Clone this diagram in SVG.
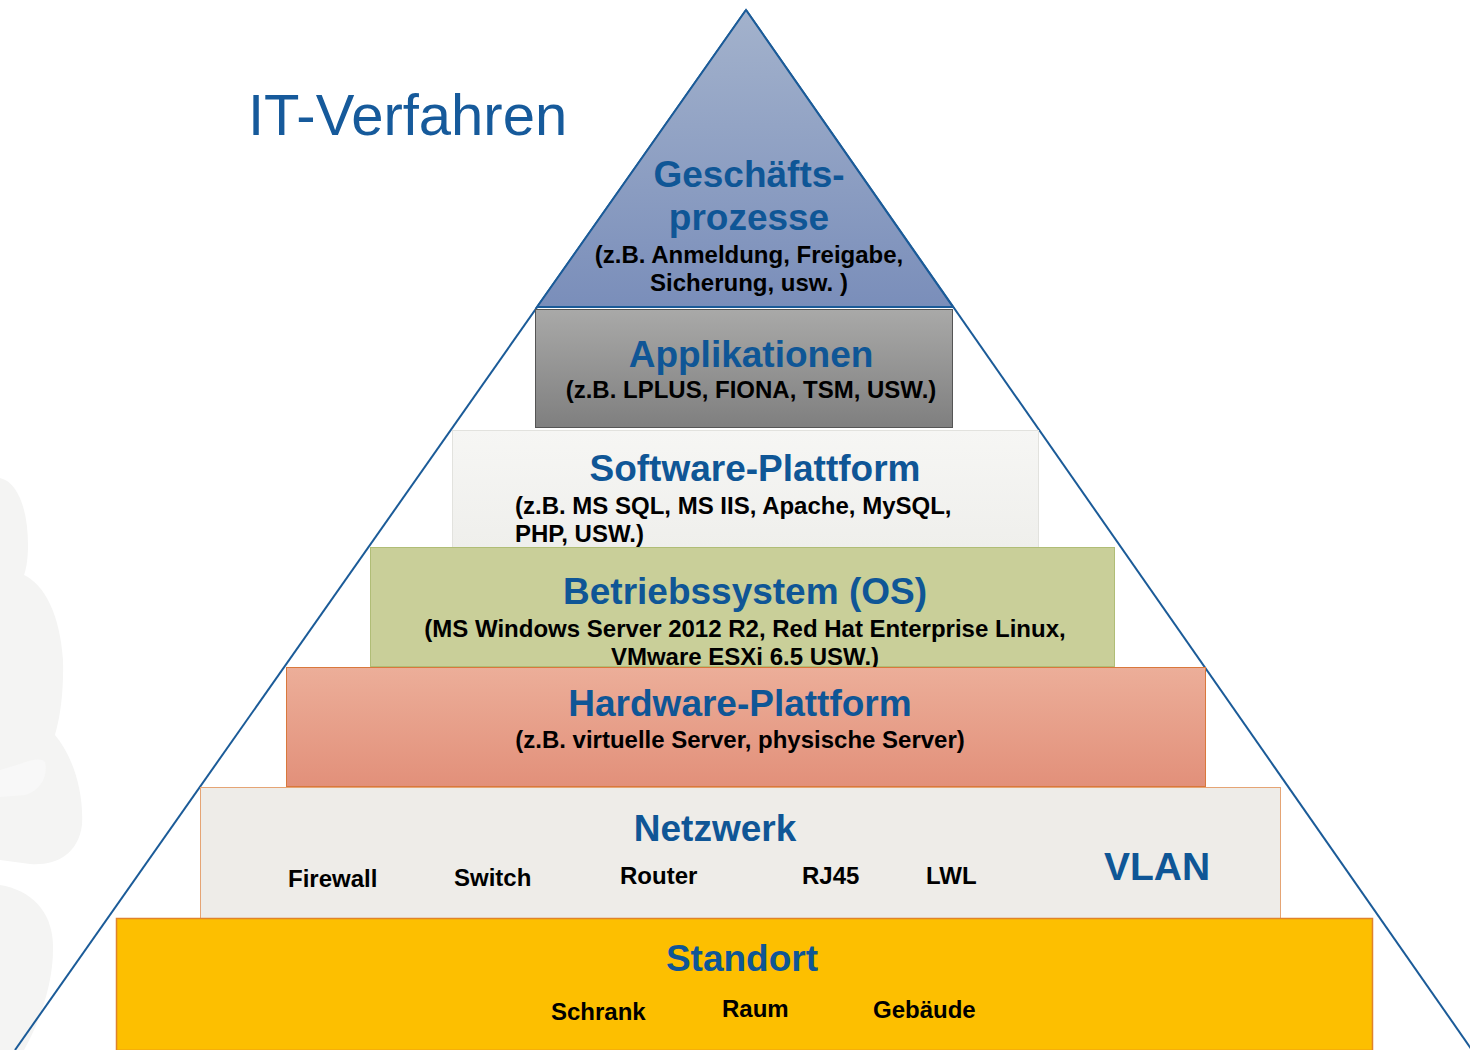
<svg xmlns="http://www.w3.org/2000/svg" width="1470" height="1050" viewBox="0 0 1470 1050">
<defs>
<linearGradient id="gTop" x1="0" y1="0" x2="0" y2="1"><stop offset="0" stop-color="#a3b2cc"/><stop offset="1" stop-color="#7a8eba"/></linearGradient>
<linearGradient id="gApp" x1="0" y1="0" x2="0" y2="1"><stop offset="0" stop-color="#a9a9a8"/><stop offset="1" stop-color="#7f7f7f"/></linearGradient>
<linearGradient id="gSw" x1="0" y1="0" x2="0" y2="1"><stop offset="0" stop-color="#f6f6f4"/><stop offset="1" stop-color="#efefec"/></linearGradient>
<linearGradient id="gHw" x1="0" y1="0" x2="0" y2="1"><stop offset="0" stop-color="#ecae99"/><stop offset="1" stop-color="#e2907a"/></linearGradient>
</defs>
<style>
text{font-family:"Liberation Sans",Arial,sans-serif;font-weight:bold}
.h{fill:#0f5696;font-size:37px}
.s{fill:#000;font-size:24px}
.c{text-anchor:middle}
.title{fill:#165a9b;font-size:58px;font-weight:normal}
.edge{stroke:#1b5b98;stroke-width:2;fill:none}
</style>
<rect width="1470" height="1050" fill="#ffffff"/>
<path d="M0,478 C18,482 28,510 28,545 C28,560 26,570 24,575 C45,585 60,615 63,660 C64,700 58,725 55,735 C72,755 84,790 82,825 C78,855 55,866 30,864 L0,860 Z" fill="#f4f4f3"/>
<path d="M0,885 C30,890 52,910 53,945 C54,985 38,1025 24,1050 L0,1050 Z" fill="#f4f4f3"/>
<path d="M0,770 C20,765 38,755 45,762 C48,775 42,790 25,795 L0,797 Z" fill="#f8f8f8"/>
<text class="title" x="248" y="135">IT-Verfahren</text>
<g id="connectors">
<line class="edge" x1="746" y1="10" x2="15" y2="1050"/>
<line class="edge" x1="746" y1="10" x2="1472" y2="1050"/>
</g>
<g id="geschaeftsprozesse">
<polygon points="746,10 537,307 953,307" fill="url(#gTop)" stroke="#1b5b98" stroke-width="2"/>
<text class="h c" x="749" y="187">Geschäfts-</text>
<text class="h c" x="749" y="230">prozesse</text>
<text class="s c" x="749" y="263">(z.B. Anmeldung, Freigabe,</text>
<text class="s c" x="749" y="291">Sicherung, usw. )</text>
</g>
<g id="applikationen">
<rect x="535.5" y="309.5" width="417" height="118" fill="url(#gApp)" stroke="#555555" stroke-width="1"/>
<text class="h c" x="751" y="367">Applikationen</text>
<text class="s c" x="751" y="398">(z.B. LPLUS, FIONA, TSM, USW.)</text>
</g>
<g id="software">
<rect x="452.5" y="430.5" width="586" height="117" fill="url(#gSw)" stroke="#e2e2de" stroke-width="1"/>
<text class="h c" x="755" y="481">Software-Plattform</text>
<text class="s" x="515" y="514">(z.B. MS SQL, MS IIS, Apache, MySQL,</text>
<text class="s" x="515" y="542">PHP, USW.)</text>
</g>
<g id="betriebssystem">
<rect x="370.5" y="547.5" width="744" height="119" fill="#c9cf99" stroke="#b0bd76" stroke-width="1"/>
<text class="h c" x="745" y="604">Betriebssystem (OS)</text>
<text class="s c" x="745" y="637">(MS Windows Server 2012 R2, Red Hat Enterprise Linux,</text>
<text class="s c" x="745" y="665">VMware ESXi 6.5 USW.)</text>
</g>
<g id="hardware">
<rect x="286.5" y="667.5" width="919" height="119" fill="url(#gHw)" stroke="#d9783c" stroke-width="1"/>
<text class="h c" x="740" y="716">Hardware-Plattform</text>
<text class="s c" x="740" y="748">(z.B. virtuelle Server, physische Server)</text>
</g>
<g id="netzwerk">
<rect x="200.5" y="787.5" width="1080" height="131" fill="#eeece8" stroke="#e5a474" stroke-width="1"/>
<text class="h c" x="715" y="841">Netzwerk</text>
<text class="s" x="288" y="887">Firewall</text>
<text class="s" x="454" y="886">Switch</text>
<text class="s" x="620" y="884">Router</text>
<text class="s" x="802" y="884">RJ45</text>
<text class="s" x="926" y="884">LWL</text>
<text class="h" x="1104" y="880" style="font-size:39px">VLAN</text>
</g>
<g id="standort">
<rect x="116.5" y="918.5" width="1256" height="132" fill="#fdbf00" stroke="#e0832a" stroke-width="1.5"/>
<text class="h c" x="742" y="971">Standort</text>
<text class="s" x="551" y="1020">Schrank</text>
<text class="s" x="722" y="1017">Raum</text>
<text class="s" x="873" y="1018">Gebäude</text>
</g>
</svg>
